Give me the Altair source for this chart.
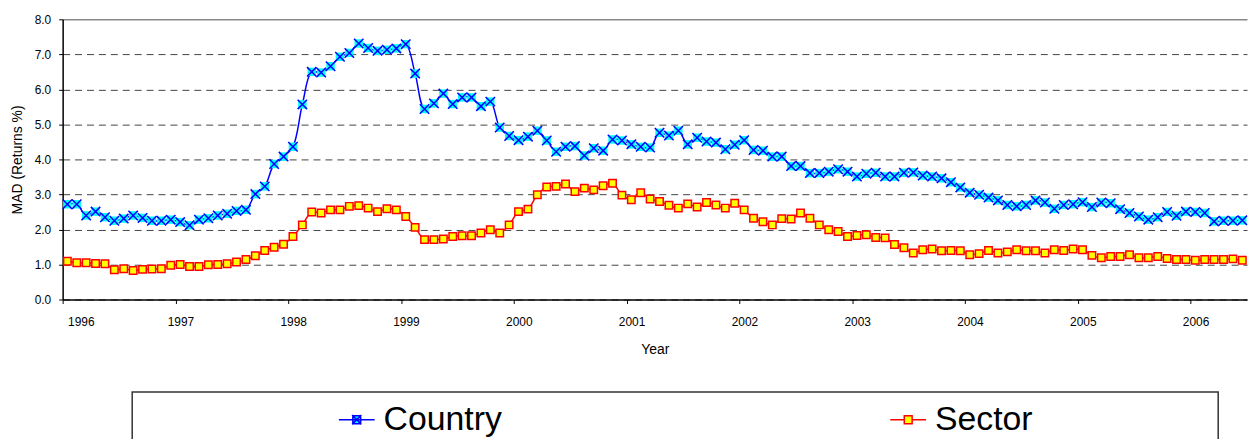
import altair as alt
import pandas as pd

# ---- data (monthly, Jan 1996 - Jun 2006) ----
start_year = 1996
series_names = ["Country", "Sector"]
year_ticks = list(range(1996, 2007))
y_ticks = [0, 1, 2, 3, 4, 5, 6, 7, 8]

country = [
    2.72, 2.72, 2.40, 2.51, 2.35, 2.25, 2.31, 2.40, 2.33, 2.25, 2.25, 2.28,  # 1996
    2.21, 2.12, 2.28, 2.32, 2.40, 2.45, 2.53, 2.56, 3.01, 3.23, 3.87, 4.08,  # 1997
    4.36, 5.57, 6.50, 6.48, 6.66, 6.93, 7.04, 7.31, 7.18, 7.10, 7.13, 7.17,  # 1998
    7.29, 6.45, 5.44, 5.60, 5.88, 5.58, 5.77, 5.77, 5.52, 5.65, 4.91, 4.67,  # 1999
    4.55, 4.65, 4.82, 4.54, 4.22, 4.36, 4.38, 4.11, 4.32, 4.25, 4.57, 4.54,  # 2000
    4.43, 4.36, 4.34, 4.76, 4.68, 4.82, 4.43, 4.62, 4.51, 4.48, 4.29, 4.42,  # 2001
    4.55, 4.27, 4.25, 4.08, 4.08, 3.81, 3.81, 3.61, 3.61, 3.65, 3.72, 3.65,  # 2002
    3.51, 3.59, 3.62, 3.51, 3.51, 3.62, 3.63, 3.54, 3.51, 3.46, 3.35, 3.20,  # 2003
    3.05, 2.99, 2.91, 2.83, 2.70, 2.66, 2.70, 2.83, 2.77, 2.59, 2.70, 2.72,  # 2004
    2.78, 2.64, 2.77, 2.75, 2.58, 2.47, 2.37, 2.28, 2.35, 2.50, 2.39, 2.51,  # 2005
    2.50, 2.47, 2.23, 2.25, 2.25, 2.26,                                      # 2006
]

sector = [
    1.09, 1.05, 1.05, 1.03, 1.02, 0.85, 0.88, 0.83, 0.86, 0.87, 0.88, 0.98,  # 1996
    1.00, 0.94, 0.94, 0.99, 1.00, 1.02, 1.07, 1.14, 1.25, 1.40, 1.49, 1.58,  # 1997
    1.80, 2.13, 2.50, 2.47, 2.56, 2.56, 2.66, 2.68, 2.61, 2.51, 2.59, 2.56,  # 1998
    2.37, 2.06, 1.71, 1.71, 1.73, 1.80, 1.82, 1.82, 1.90, 1.99, 1.90, 2.13,  # 1999
    2.51, 2.58, 2.99, 3.21, 3.23, 3.30, 3.08, 3.18, 3.13, 3.25, 3.32, 2.98,  # 2000
    2.85, 3.05, 2.87, 2.80, 2.69, 2.61, 2.73, 2.64, 2.77, 2.70, 2.61, 2.75,  # 2001
    2.56, 2.32, 2.22, 2.13, 2.31, 2.30, 2.47, 2.32, 2.13, 1.99, 1.94, 1.80,  # 2002
    1.83, 1.85, 1.77, 1.76, 1.57, 1.48, 1.33, 1.42, 1.44, 1.39, 1.40, 1.39,  # 2003
    1.28, 1.31, 1.40, 1.33, 1.36, 1.42, 1.39, 1.39, 1.33, 1.42, 1.40, 1.44,  # 2004
    1.42, 1.26, 1.19, 1.23, 1.23, 1.28, 1.19, 1.19, 1.23, 1.17, 1.14, 1.14,  # 2005
    1.12, 1.14, 1.14, 1.14, 1.16, 1.12,                                      # 2006
]

n = len(country)
t = [start_year + (i + 0.5) / 12 for i in range(n)]
df = pd.DataFrame({
    "t": t + t,
    "value": country + sector,
    "Series": ["Country"] * n + ["Sector"] * n,
})

FONT = "Liberation Sans, Arial, sans-serif"

x = alt.X(
    "t:Q",
    scale=alt.Scale(domain=[1996, 2006.5], nice=False, zero=False),
    axis=alt.Axis(
        values=year_ticks, format="d", title="Year", grid=False,
        labelFont=FONT, labelFontSize=12, labelOffset=5, labelPadding=13,
        titleFont=FONT, titleFontSize=14, titleFontWeight="normal", titlePadding=15,
        tickSize=4, labelColor="#000", titleColor="#000",
    ),
)
y = alt.Y(
    "value:Q",
    scale=alt.Scale(domain=[0, 8], nice=False),
    axis=alt.Axis(
        values=y_ticks, format=".1f", title="MAD (Returns %)",
        labelFont=FONT, labelFontSize=12, labelPadding=8,
        titleFont=FONT, titleFontSize=14,
        titleFontWeight="normal", titlePadding=10,
        tickSize=4, labelColor="#000", titleColor="#000",
        gridDash={"condition": {"test": "datum.value === 8", "value": []}, "value": [7, 5]},
        gridColor={"condition": {"test": "datum.value === 8", "value": "#888888"}, "value": "#444444"},
        gridWidth={"condition": {"test": "datum.value === 8", "value": 1.5}, "value": 1},
    ),
)

base = alt.Chart(df)
is_country = "datum.Series === 'Country'"
is_sector = "datum.Series === 'Sector'"

path_country = ("M-1,0H1M-0.22,-0.22H0.22V0.22H-0.22Z"
                "M-0.26,-0.26L0.26,0.26M-0.26,0.26L0.26,-0.26")
path_sector = "M-1,0H-0.22M0.22,0H1M-0.22,-0.22H0.22V0.22H-0.22Z"

# series lines (fixed colours, no legend channel)
country_line = base.transform_filter(is_country).mark_line(
    strokeWidth=1.5, interpolate="catmull-rom", color="#0000FF"
).encode(x=x, y=y)
sector_line = base.transform_filter(is_sector).mark_line(
    strokeWidth=1.5, interpolate="catmull-rom", color="#FF0000"
).encode(x=x, y=y)

country_bg = base.transform_filter(is_country).mark_square(
    color="#00FFFF", size=72, opacity=1, filled=True
).encode(x=x, y=y)

country_x = base.transform_filter(is_country).mark_point(
    shape="M-1,-1L1,1M-1,1L1,-1", stroke="#0000FF", strokeWidth=1.5, size=90, filled=False, opacity=1
).encode(x=x, y=y)

sector_pts = base.transform_filter(is_sector).mark_square(
    fill="#FFFF00", stroke="#FF0000", strokeWidth=1.5, size=56, filled=True, opacity=1
).encode(x=x, y=y)

# one merged legend (shape + stroke + fill) placed inside the box below the plot
leg = alt.Legend(
    title=None, orient="none", legendX=277, legendY=384, direction="horizontal",
    symbolSize=1296, symbolStrokeWidth=1.5,
    labelFont=FONT, labelFontSize=34, labelOffset=8, labelColor="#000",
    labelLimit=400, columnPadding=387, symbolOpacity=1,
)

legend_layer = base.mark_point(filled=True, opacity=0, strokeWidth=1.5).encode(
    x=x, y=y,
    fill=alt.Fill("Series:N", scale=alt.Scale(domain=series_names, range=["#00FFFF", "#FFFF00"]), legend=leg),
    stroke=alt.Stroke("Series:N", scale=alt.Scale(domain=series_names, range=["#0000FF", "#FF0000"]), legend=leg),
    shape=alt.Shape("Series:N", scale=alt.Scale(domain=series_names, range=[path_country, path_sector]), legend=leg),
)

box = alt.Chart(pd.DataFrame({"k": [0]})).mark_rect(
    stroke="#333333", strokeWidth=1.5, fill="#ffffff", fillOpacity=0
).encode(x=alt.value(70), x2=alt.value(1163), y=alt.value(375), y2=alt.value(460))

chart = alt.layer(
    box, country_line, sector_line, country_bg, country_x, sector_pts, legend_layer
).properties(
    width=1192, height=282,
    autosize=alt.AutoSizeParams(type="none"),
    padding={"left": 55, "top": 10, "right": 1, "bottom": 139},
    background="#ffffff",
).configure_view(stroke=None).configure_axis(
    domainColor="#000000", domainWidth=1.5, tickColor="#000000",
)

chart.save("out.html", embed_options={"renderer": "svg", "actions": False})
